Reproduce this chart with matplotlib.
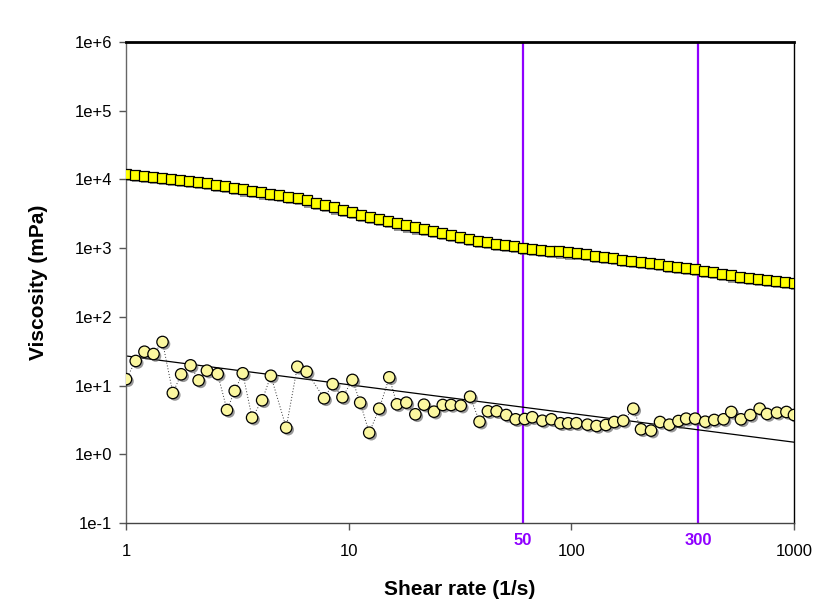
import matplotlib
matplotlib.use("Agg")
import matplotlib.pyplot as plt
import matplotlib.patheffects as pe
from matplotlib.ticker import FixedLocator, FixedFormatter, NullLocator
import matplotlib.transforms as mtransforms

plt.rcParams['font.family'] = ['Liberation Sans', 'DejaVu Sans']

# ---- data ----
shear_rate = [1.00, 1.098, 1.205, 1.323, 1.453, 1.595, 1.751, 1.922, 2.110, 2.317,
              2.543, 2.792, 3.066, 3.365, 3.695, 4.057, 4.454, 4.890, 5.368, 5.894,
              6.471, 7.104, 7.799, 8.563, 9.40, 10.32, 11.33, 12.44, 13.66, 14.99,
              16.46, 18.07, 19.84, 21.78, 23.91, 26.25, 28.82, 31.62, 34.72, 38.12,
              41.85, 45.94, 50.44, 55.37, 60.79, 66.74, 73.27, 80.44, 88.31, 96.94,
              106.4, 116.8, 128.3, 140.8, 154.6, 169.7, 186.3, 204.6, 224.6, 246.6,
              270.7, 297.2, 326.3, 358.2, 393.3, 431.7, 474.0, 520.3, 571.2, 627.1,
              688.5, 755.9, 829.8, 911.1, 1000.0]
viscosity_high = [12020, 11640, 11250, 10890, 10540, 10190, 9860, 9550, 9250, 8830,
                  8380, 7940, 7530, 7150, 6780, 6460, 6150, 5860, 5570, 5310,
                  4950, 4570, 4230, 3910, 3610, 3330, 3080, 2840, 2640, 2460,
                  2290, 2140, 2000, 1880, 1760, 1650, 1550, 1450, 1360, 1280,
                  1220, 1160, 1110, 1060, 1020, 982, 951, 922, 894, 866,
                  840, 813, 775, 741, 711, 681, 653, 627, 603, 580,
                  558, 537, 516, 494, 470, 444, 422, 401, 380, 371,
                  357, 344, 332, 321, 309]

shear_rate_low = [1.00, 1.106, 1.210, 1.329, 1.459, 1.623, 1.769, 1.950, 2.119, 2.309,
                  2.581, 2.842, 3.078, 3.344, 3.684, 4.087, 4.473, 5.242, 5.882, 6.477,
                  7.755, 8.479, 9.38, 10.40, 11.27, 12.37, 13.72, 15.22, 16.47, 18.16,
                  19.93, 21.79, 24.17, 26.46, 28.84, 31.88, 35.12, 38.71, 42.20, 46.18,
                  51.03, 56.23, 61.75, 66.80, 74.11, 81.37, 89.32, 96.74, 105.4, 118.2,
                  129.8, 143.0, 155.9, 171.1, 189.8, 205.6, 228.1, 250.3, 275.8, 302.8,
                  328.0, 359.9, 399.4, 438.5, 482.9, 523.0, 577.9, 637.1, 701.3, 756.6,
                  839.0, 925.0, 1000.0]
viscosity_low = [12.4, 22.8, 31.1, 28.8, 43.1, 7.80, 14.6, 19.7, 11.9, 16.5,
                 14.8, 4.41, 8.35, 15.1, 3.41, 6.11, 13.9, 2.44, 18.8, 15.9,
                 6.53, 10.5, 6.76, 12.1, 5.64, 2.06, 4.61, 13.2, 5.34, 5.64,
                 3.82, 5.27, 4.17, 5.22, 5.22, 5.10, 6.89, 2.98, 4.23, 4.23,
                 3.73, 3.23, 3.26, 3.46, 3.08, 3.23, 2.83, 2.83, 2.83, 2.70,
                 2.58, 2.67, 2.95, 3.08, 4.61, 2.31, 2.21, 2.95, 2.70, 3.05,
                 3.30, 3.30, 2.98, 3.16, 3.23, 4.13, 3.23, 3.73, 4.61, 3.86,
                 4.03, 4.13, 3.73]

fit_x = [1, 1000]
fit_y = [27.0, 1.50]

vline_x = [60.5, 372]
vline_labels = ['50', '300']

x_ticks = [1, 10, 100, 1000]
x_ticklabels = ['1', '10', '100', '1000']
y_ticks = [1e-1, 1e0, 1e1, 1e2, 1e3, 1e4, 1e5, 1e6]
y_ticklabels = ['1e-1', '1e+0', '1e+1', '1e+2', '1e+3', '1e+4', '1e+5', '1e+6']

# ---- figure ----
fig = plt.figure(figsize=(8.4, 6.08), dpi=100)
fig.patch.set_facecolor('white')
ax = fig.add_axes([0.15, 0.1398, 0.7952, 0.7911])
ax.set_xscale('log')
ax.set_yscale('log')
ax.set_xlim(1, 1000)
ax.set_ylim(1e-1, 1e6)

purple = '#8F00FF'
for xv in vline_x:
    ax.axvline(xv, color=purple, lw=1.6, zorder=1)

shadow = [pe.SimplePatchShadow(offset=(1.5, -1.5), shadow_rgbFace='#555555', alpha=0.6), pe.Normal()]

ax.plot(fit_x, fit_y, color='black', lw=0.9, zorder=2)
ax.plot(shear_rate_low, viscosity_low, linestyle=(0, (1, 2)), color='#333333', lw=0.7, zorder=2)
ax.plot(shear_rate_low, viscosity_low, linestyle='none', marker='o', markersize=8.2,
        markerfacecolor='#FBF7A0', markeredgecolor='black', markeredgewidth=0.9,
        zorder=3, path_effects=shadow)
ax.plot(shear_rate, viscosity_high, linestyle='none', marker='s', markersize=7.2,
        markerfacecolor='#FFFF00', markeredgecolor='black', markeredgewidth=0.9,
        zorder=4, path_effects=shadow)

ax.xaxis.set_major_locator(FixedLocator(x_ticks))
ax.xaxis.set_major_formatter(FixedFormatter(x_ticklabels))
ax.xaxis.set_minor_locator(NullLocator())
ax.yaxis.set_major_locator(FixedLocator(y_ticks))
ax.yaxis.set_major_formatter(FixedFormatter(y_ticklabels))
ax.yaxis.set_minor_locator(NullLocator())

ax.tick_params(axis='both', direction='out', length=5, width=1, color='#555555',
               labelsize=12, labelcolor='black')
ax.tick_params(axis='x', pad=10)
ax.tick_params(axis='y', pad=5)

ax.spines['left'].set_color('#666666')
ax.spines['left'].set_linewidth(1.0)
ax.spines['bottom'].set_color('#444444')
ax.spines['bottom'].set_linewidth(1.0)
ax.spines['top'].set_color('black')
ax.spines['top'].set_linewidth(2.0)
ax.spines['right'].set_color('black')
ax.spines['right'].set_linewidth(1.0)

trans = mtransforms.blended_transform_factory(ax.transData, ax.transAxes)
for xv, lab in zip(vline_x, vline_labels):
    ax.text(xv, -0.036, lab, transform=trans, ha='center', va='center',
            color=purple, fontsize=12, fontweight='bold')

ax.set_xlabel('Shear rate (1/s)', fontsize=15, fontweight='bold', labelpad=15)
ax.set_ylabel('Viscosity (mPa)', fontsize=15, fontweight='bold', labelpad=19)

fig.savefig('out.png', dpi=100, facecolor='white')
